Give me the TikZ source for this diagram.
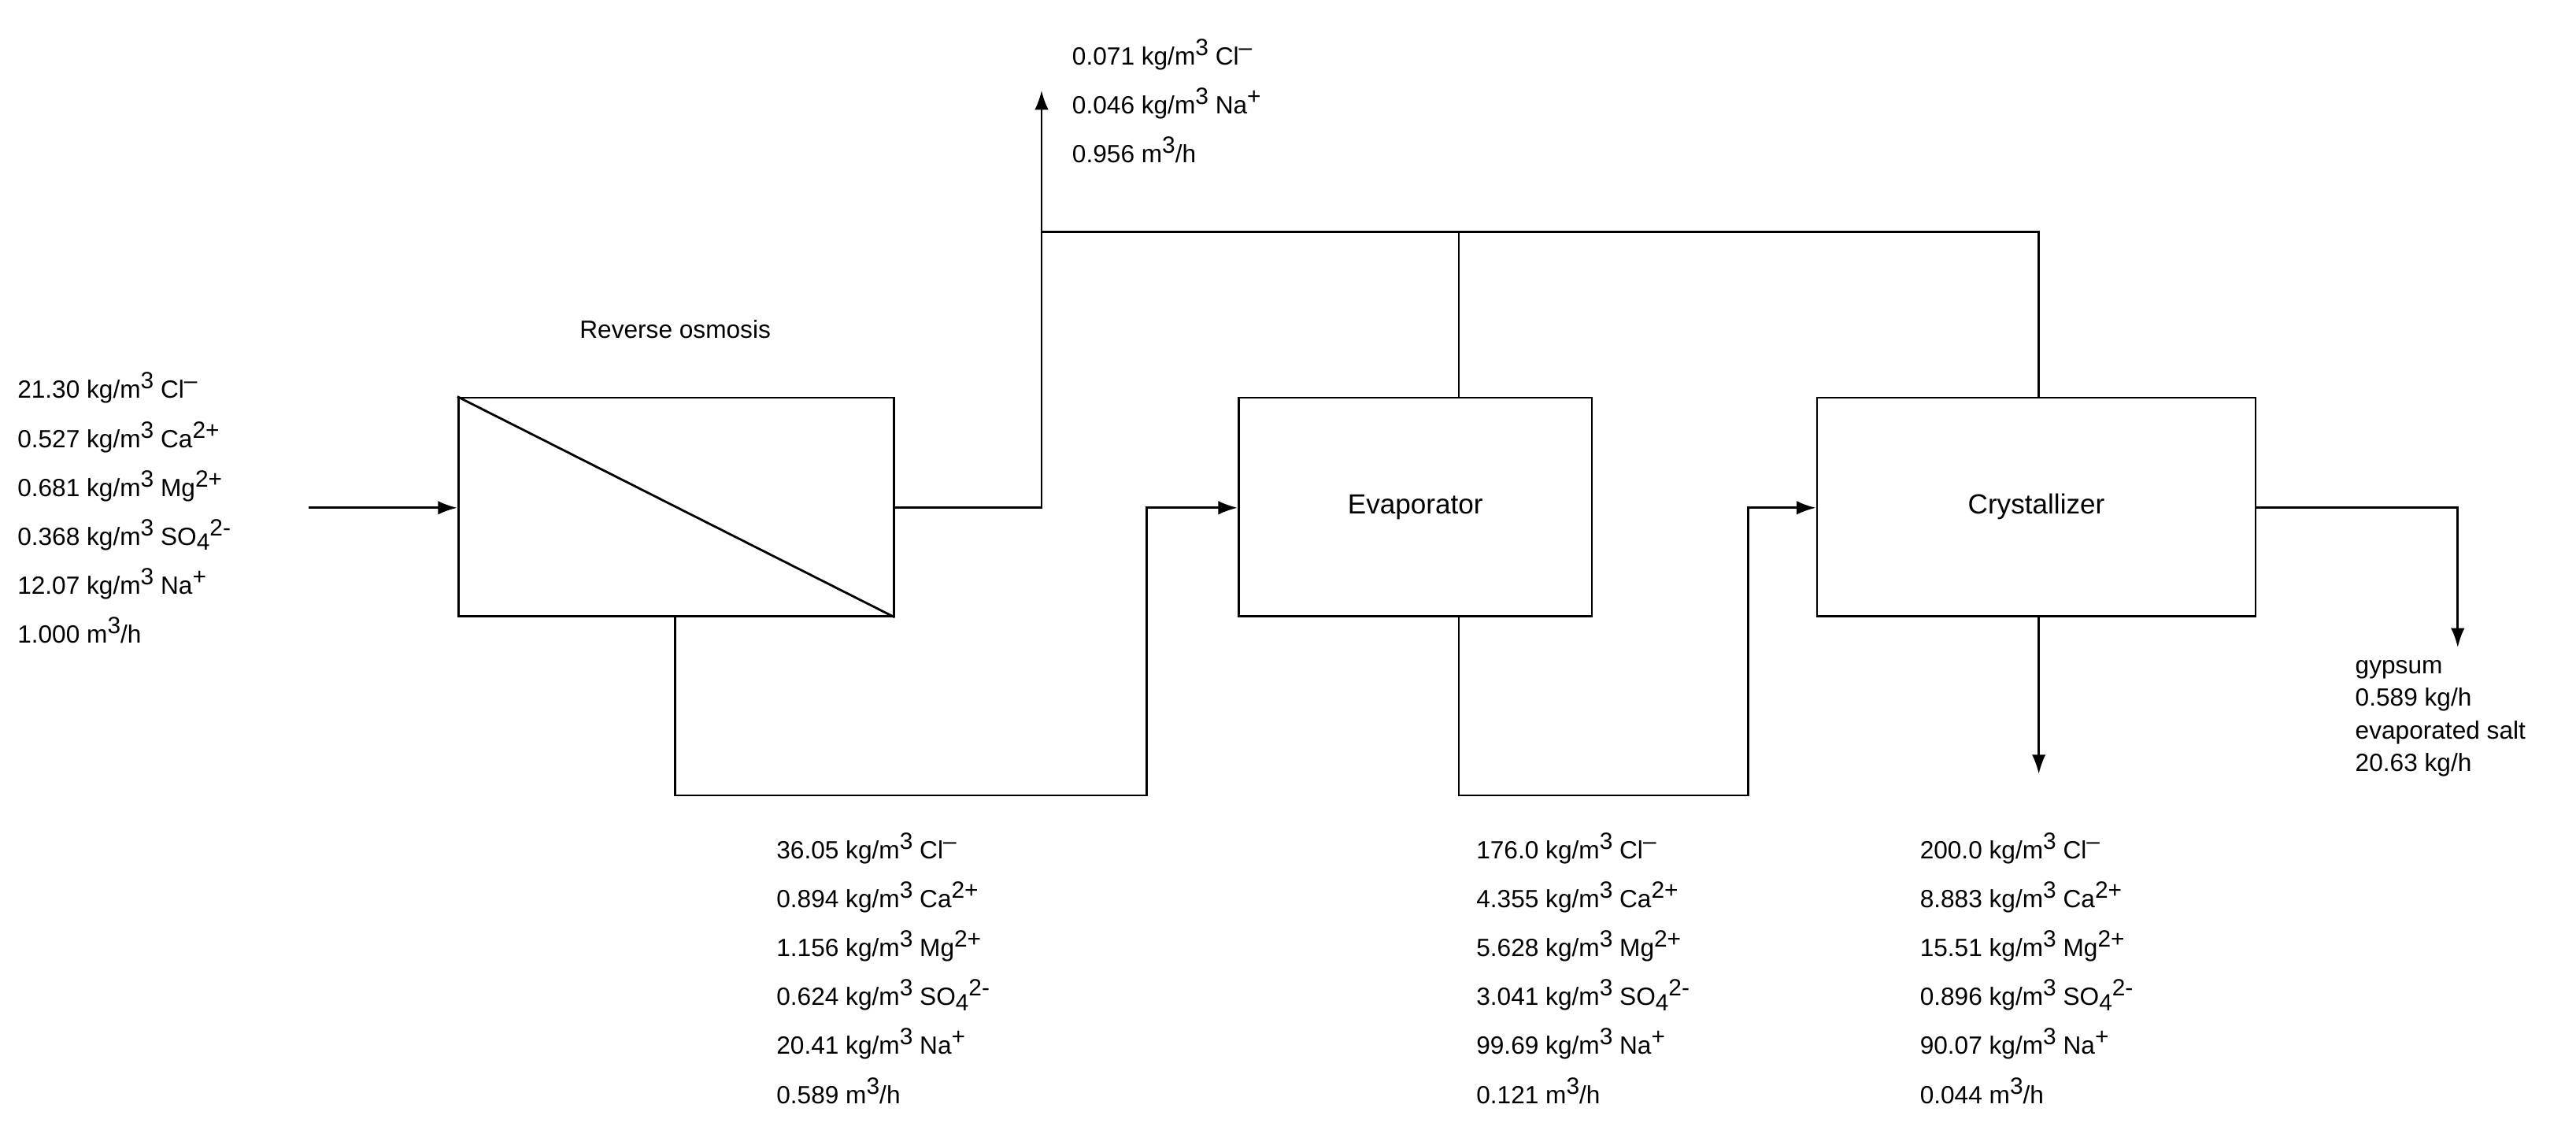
\documentclass[tikz,border=0pt]{standalone}
\usepackage{fontspec}
\setmainfont{Liberation Sans}
\usetikzlibrary{arrows.meta}
\begin{document}
\begin{tikzpicture}[x=0.02087cm,y=-0.02087cm,
  line width=0.8pt,
  box/.style={draw,line width=0.8pt,inner sep=0pt,minimum height=2.776cm},
  flow/.style={-{Latex[length=7pt,width=5pt]}},
  lbl/.style={anchor=north west,align=left,inner sep=0pt,font=\fontsize{9}{17.7}\selectfont},
  lbls/.style={anchor=north west,align=left,inner sep=0pt,font=\fontsize{9}{11.8}\selectfont}]
\useasboundingbox (0,0) rectangle (1568,690);
\newcommand{\hi}[1]{\raisebox{0.38em}{\fontsize{8.5}{9}\selectfont #1}}
\newcommand{\lo}[1]{\raisebox{-0.2em}{\fontsize{8.5}{9}\selectfont #1}}
\newcommand{\cl}{Cl\hi{–}}
\newcommand{\ca}{Ca\hi{2+}}
\newcommand{\mg}{Mg\hi{2+}}
\newcommand{\so}{SO\lo{4}\hi{2-}}
\newcommand{\na}{Na\hi{+}}
\newcommand{\kg}{kg/m\hi{3}}
% boxes
\node[box,minimum width=5.53cm] (ro) at (411.5,308.5) {};
\draw (ro.north west) -- (ro.south east);
\node[box,minimum width=4.487cm] (ev) at (861.5,308.5) {Evaporator};
\node[box,minimum width=5.572cm] (cr) at (1239.5,308.5) {Crystallizer};
\node[anchor=base,inner sep=0pt,font=\fontsize{9}{11}\selectfont] (rot) at (411,206) {Reverse osmosis};
% coordinates
\coordinate (in) at (188,309);
\coordinate (a1) at (634,309);
\coordinate (top) at (634,55);
\coordinate (j1) at (634,141);
\coordinate (j2) at (888,141);
\coordinate (j3) at (1241,141);
\coordinate (b1) at (411,484);
\coordinate (b2) at (698,484);
\coordinate (b3) at (698,309);
\coordinate (c1) at (888,484);
\coordinate (c2) at (1064,484);
\coordinate (c3) at (1064,309);
\coordinate (d1) at (1241,471);
\coordinate (e1) at (1496,309);
\coordinate (e2) at (1496,394);
% flows
\draw[flow] (in) -- (in -| ro.west);
\draw[flow] (ro.east |- a1) -- (a1) -- (top);
\draw (j1) -- (j3) -- (j3 |- cr.north);
\draw (j2) -- (j2 |- ev.north);
\draw[flow] (ro.south -| b1) -- (b1) -- (b2) -- (b3) -- (b3 -| ev.west);
\draw[flow] (ev.south -| c1) -- (c1) -- (c2) -- (c3) -- (c3 -| cr.west);
\draw[flow] (cr.south -| d1) -- (d1);
\draw[flow] (cr.east |- e1) -- (e1) -- (e2);
% labels
\node[lbl] (l0) at (10,226) {21.30 \kg{} \cl\\0.527 \kg{} \ca\\0.681 \kg{} \mg\\0.368 \kg{} \so\\12.07 \kg{} \na\\1.000 m\hi{3}/h};
\node[lbl] (l1) at (652,23) {0.071 \kg{} \cl\\0.046 \kg{} \na\\0.956 m\hi{3}/h};
\node[lbl] (l2) at (472,506) {36.05 \kg{} \cl\\0.894 \kg{} \ca\\1.156 \kg{} \mg\\0.624 \kg{} \so\\20.41 \kg{} \na\\0.589 m\hi{3}/h};
\node[lbl] (l3) at (898,506) {176.0 \kg{} \cl\\4.355 \kg{} \ca\\5.628 \kg{} \mg\\3.041 \kg{} \so\\99.69 \kg{} \na\\0.121 m\hi{3}/h};
\node[lbl] (l4) at (1168,506) {200.0 \kg{} \cl\\8.883 \kg{} \ca\\15.51 \kg{} \mg\\0.896 \kg{} \so\\90.07 \kg{} \na\\0.044 m\hi{3}/h};
\node[lbls] (l5) at (1433,401) {gypsum\\0.589 kg/h\\evaporated salt\\20.63 kg/h};
\end{tikzpicture}
\end{document}
